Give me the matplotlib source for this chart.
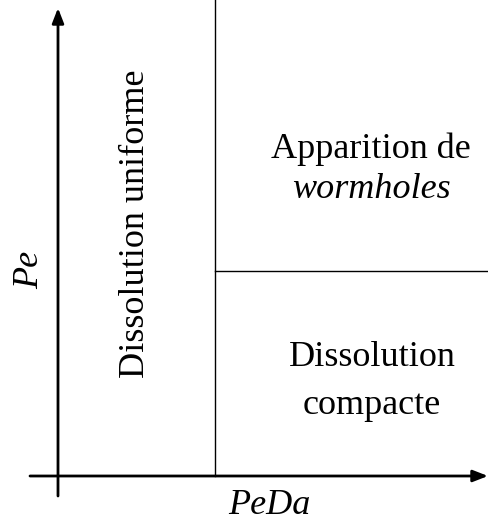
import matplotlib
matplotlib.use("Agg")
import matplotlib.pyplot as plt

# Schematic regime diagram (coordinates in a 0..489 x 0..524 frame, y downward)
x_axis_label = "PeDa"
y_axis_label = "Pe"
region_labels = ["Dissolution uniforme", "Apparition de", "wormholes", "Dissolution", "compacte"]
boundary_x = 215      # vertical boundary position
boundary_y = 271      # horizontal boundary position
origin = (58, 476)

W, H = 489, 524
fig = plt.figure(figsize=(W / 100, H / 100), dpi=100)
ax = fig.add_axes([0, 0, 1, 1])
ax.set_xlim(0, W)
ax.set_ylim(H, 0)
ax.axis("off")

plt.rcParams["font.family"] = ["Liberation Serif", "DejaVu Serif"]

arrow = dict(arrowstyle="-|>,head_length=0.9,head_width=0.35", lw=2, color="black",
             shrinkA=0, shrinkB=0)
# y axis
ax.annotate("", xy=(origin[0], 8), xytext=(origin[0], 496), arrowprops=arrow)
# x axis
ax.annotate("", xy=(488, origin[1]), xytext=(30, origin[1]), arrowprops=arrow)

# boundaries
ax.plot([boundary_x, boundary_x], [0, origin[1]], color="black", lw=1)
ax.plot([boundary_x, W], [boundary_y, boundary_y], color="black", lw=1)

fs = 26
ax.text(136, 224, region_labels[0], rotation=90, ha="center", va="center",
        fontsize=fs, family="Liberation Serif")
ax.text(371, 149, region_labels[1], ha="center", va="center", fontsize=fs,
        family="Liberation Serif")
ax.text(371, 190, region_labels[2], ha="center", va="center", fontsize=fs,
        family="Liberation Serif", style="italic")
ax.text(372, 357, region_labels[3], ha="center", va="center", fontsize=fs,
        family="Liberation Serif")
ax.text(372, 405, region_labels[4], ha="center", va="center", fontsize=fs,
        family="Liberation Serif")

ax.text(30, 270, y_axis_label, rotation=90, ha="center", va="center", fontsize=fs,
        family="Liberation Serif", style="italic")
ax.text(269, 505, x_axis_label, ha="center", va="center", fontsize=fs,
        family="Liberation Serif", style="italic")

fig.savefig("out.png", dpi=100)
